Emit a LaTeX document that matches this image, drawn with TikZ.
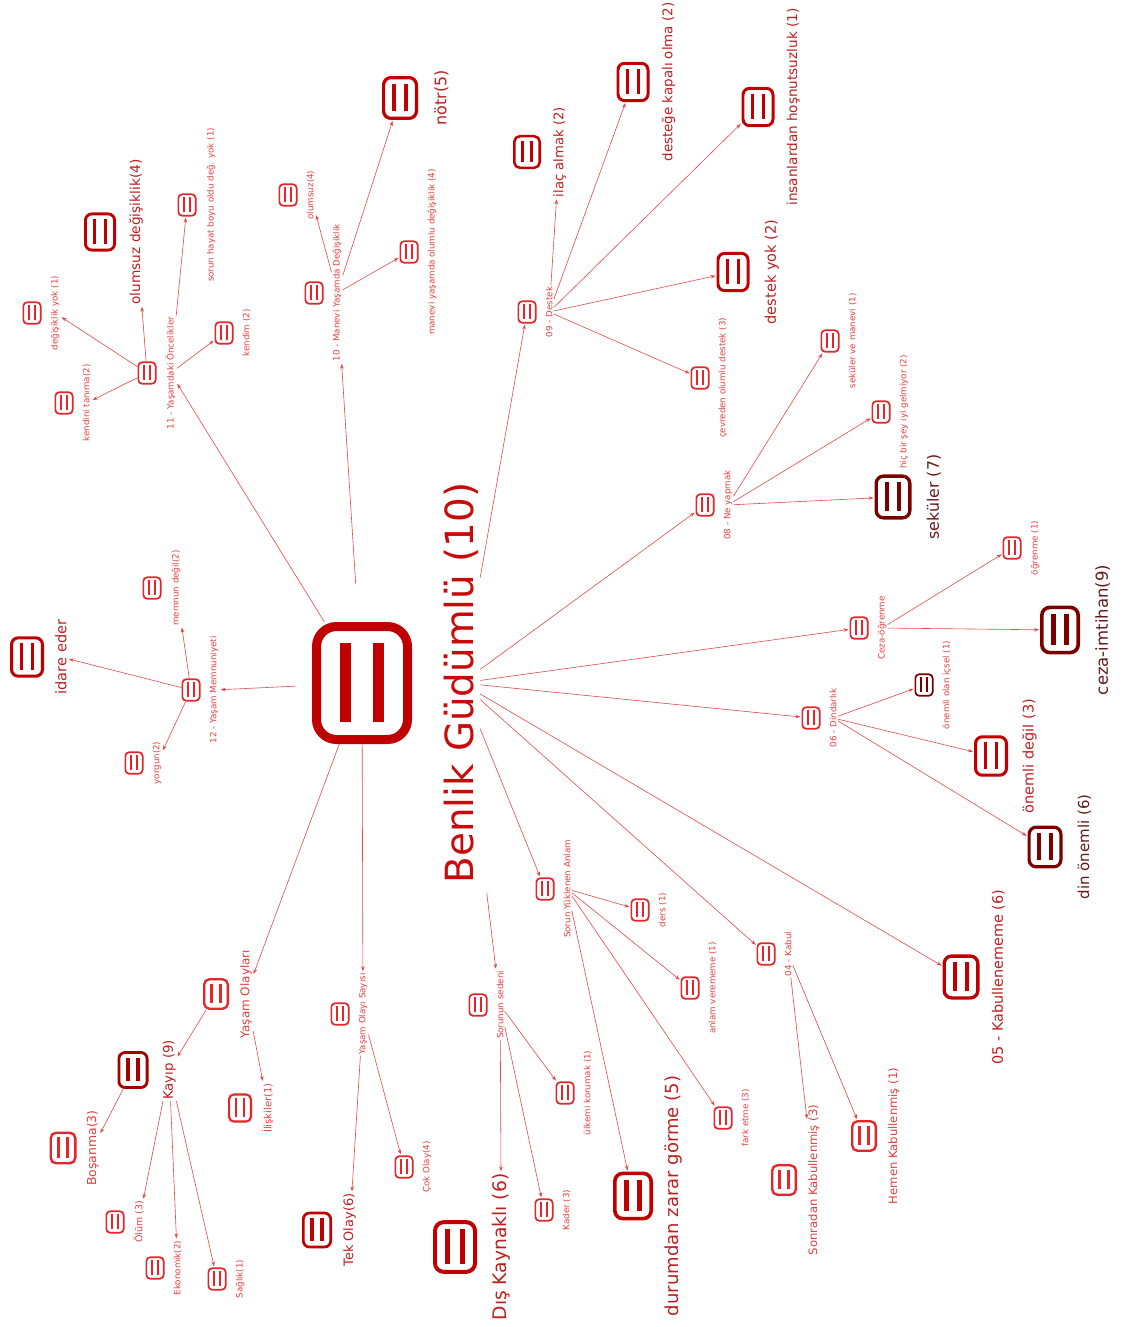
\documentclass[tikz,border=0pt]{standalone}
\usepackage{fontspec}
\setmainfont{DejaVu Sans}
\usetikzlibrary{positioning}
\usetikzlibrary{arrows.meta}

\definecolor{icoS}{RGB}{228,38,42}
\definecolor{icoM}{RGB}{192,0,0}
\definecolor{icoK}{RGB}{165,0,0}
\definecolor{icoD}{RGB}{122,0,0}
\definecolor{lblS}{RGB}{226,62,62}
\definecolor{lblM}{RGB}{190,30,30}
\definecolor{lblD}{RGB}{100,25,25}
\definecolor{lblC}{RGB}{200,10,10}
\definecolor{edgec}{RGB}{228,72,72}

\begin{document}
\begin{tikzpicture}[
            x = 1pt, y = -1pt, % one unit per pixel, y downwards
            > = {Stealth[length=5pt, width=3.6pt]}, % arrow head style
            shorten > = 1pt,
            semithick,
            every edge/.append style = {draw = edgec},
            % code icon: rounded box with two bars
            ico/.style 2 args = {draw = #2, fill = white, inner sep = 0pt,
                rounded corners = 0.2*#1, line width = 0.09*#1,
                minimum width = 0.91*#1, minimum height = 1.13*#1,
                path picture = {
                    \draw[#2, line width = 0.11*#1]
                        ([xshift=-0.165*#1, yshift=0.4*#1]path picture bounding box.center) --
                        ([xshift=-0.165*#1, yshift=-0.4*#1]path picture bounding box.center);
                    \draw[#2, line width = 0.11*#1]
                        ([xshift=0.165*#1, yshift=0.4*#1]path picture bounding box.center) --
                        ([xshift=0.165*#1, yshift=-0.4*#1]path picture bounding box.center);
                }},
            sico/.style = {ico = {19pt}{icoS}},
            % labels run upwards, next to their icon
            lbl/.style 2 args = {rotate = 90, anchor = north, inner sep = 1pt,
                text = #2, font = \fontsize{#1}{#1}\selectfont},
            lbls/.style = {lbl = {8.7}{lblS}}
        ]

        \useasboundingbox (0,0) rectangle (1125,1327);

% centre
        \node[ico = {100pt}{icoM}] (c) at (362,683) {};
        \node[right = 31pt of c, lbl = {38.8}{lblC}] (c-l) {Benlik Güdümlü (10)};

% 12 - Yaşam Memnuniyeti
        \node[sico] (n12) at (191,690) {};
        \node[right = 8pt of n12, lbls] (n12-l) {12 - Yaşam Memnuniyeti};
        \node[ico = {34pt}{icoM}] (idare) at (27,657) {};
        \node[right = 10pt of idare, lbl = {14.6}{lblM}] (idare-l) {idare eder};
        \node[sico] (memnun) at (152,588) {};
        \node[right = 9pt of memnun, lbls] (memnun-l) {memnun değil(2)};
        \node[sico] (yorgun) at (134,763) {};
        \node[right = 8pt of yorgun, lbls] (yorgun-l) {yorgun(2)};

% 11 - Yaşamdaki Öncelikler
        \node[sico] (n11) at (147,373) {};
        \node[right = 8pt of n11, lbls] (n11-l) {11 - Yaşamdaki Öncelikler};
        \node[ico = {32pt}{icoM}] (olumdeg) at (100,232) {};
        \node[right = 12pt of olumdeg, lbl = {13.7}{lblM}] (olumdeg-l) {olumsuz değişiklik(4)};
        \node[sico] (sorun) at (187,205) {};
        \node[right = 9pt of sorun, lbls] (sorun-l) {sorun hayat boyu oldu değ. yok (1)};
        \node[sico] (kendim) at (224,333) {};
        \node[right = 8pt of kendim, lbls] (kendim-l) {kendim (2)};
        \node[sico] (degyok) at (32,313) {};
        \node[right = 8pt of degyok, lbls] (degyok-l) {değişiklik yok (1)};
        \node[sico] (kendini) at (64,403) {};
        \node[right = 8pt of kendini, lbls] (kendini-l) {kendini tanıma(2)};

% 10 - Manevi Yaşamda Değişiklik
        \node[sico] (n10) at (314,293) {};
        \node[right = 8pt of n10, lbls] (n10-l) {10 - Manevi Yaşamda Değişiklik};
        \node[sico] (olumsuz) at (288,195) {};
        \node[right = 8pt of olumsuz, lbls] (olumsuz-l) {olumsuz(4)};
        \node[ico = {36pt}{icoM}] (notr) at (400,98) {};
        \node[right = 15pt of notr, lbl = {15.9}{lblM}] (notr-l) {nötr(5)};
        \node[sico] (olumlu) at (409,252) {};
        \node[right = 8pt of olumlu, lbls] (olumlu-l) {manevi yaşamda olumlu değişiklik (4)};

% 09 - Destek
        \node[sico] (n09) at (527,312) {};
        \node[right = 8pt of n09, lbls] (n09-l) {09 - Destek};
        \node[ico = {28pt}{icoM}] (ilac) at (527,152) {};
        \node[right = 11pt of ilac, lbl = {13.2}{lblM}] (ilac-l) {ilaç almak (2)};
        \node[ico = {33pt}{icoM}] (kapali) at (633,82) {};
        \node[right = 11pt of kapali, lbl = {13.4}{lblM}] (kapali-l) {desteğe kapalı olma (2)};
        \node[ico = {33pt}{icoM}] (hosnut) at (758,107) {};
        \node[right = 11pt of hosnut, lbl = {13.6}{lblM}] (hosnut-l) {insanlardan hoşnutsuzluk (1)};
        \node[ico = {33pt}{icoM}] (destekyok) at (733,272) {};
        \node[right = 14pt of destekyok, lbl = {14.6}{lblM}] (destekyok-l) {destek yok (2)};
        \node[sico] (cevre) at (700,378) {};
        \node[right = 8pt of cevre, lbls] (cevre-l) {çevreden olumlu destek (3)};

% 08 - Ne yapmak
        \node[sico] (n08) at (705,505) {};
        \node[right = 8pt of n08, lbls] (n08-l) {08 - Ne yapmak};
        \node[sico] (sekman) at (830,341) {};
        \node[right = 8pt of sekman, lbls] (sekman-l) {seküler ve manevi (1)};
        \node[sico] (hicbir) at (881,412) {};
        \node[right = 8pt of hicbir, lbls] (hicbir-l) {hiç bir şey iyi gelmiyor (2)};
        \node[ico = {37pt}{icoD}] (sekuler) at (893,497) {};
        \node[right = 14pt of sekuler, lbl = {15.8}{lblD}] (sekuler-l) {seküler (7)};

% Ceza-öğrenme
        \node[sico] (nceza) at (859,628) {};
        \node[right = 8pt of nceza, lbls] (nceza-l) {Ceza-öğrenme};
        \node[sico] (ogrenme) at (1012,548) {};
        \node[right = 8pt of ogrenme, lbls] (ogrenme-l) {öğrenme (1)};
        \node[ico = {40pt}{icoD}] (imtihan) at (1060,630) {};
        \node[right = 14pt of imtihan, lbl = {16.5}{lblD}] (imtihan-l) {ceza-imtihan(9)};

% 06 - Dindarlık
        \node[sico] (n06) at (811,718) {};
        \node[right = 8pt of n06, lbls] (n06-l) {06 - Dindarlık};
        \node[ico = {19pt}{icoD}] (icsel) at (924,685) {};
        \node[right = 8pt of icsel, lbls] (icsel-l) {önemli olan içsel (1)};
        \node[ico = {34pt}{icoM}] (onemdegil) at (991,756) {};
        \node[right = 13pt of onemdegil, lbl = {14.5}{lblM}] (onemdegil-l) {önemli değil (3)};
        \node[ico = {35pt}{icoD}] (dinonem) at (1045,847) {};
        \node[right = 14pt of dinonem, lbl = {15}{lblD}] (dinonem-l) {din önemli (6)};

% 05 - Kabullenememe
        \node[ico = {37pt}{icoM}] (n05) at (961,977) {};
        \node[right = 11pt of n05, lbl = {14.4}{lblM}] (n05-l) {05 - Kabullenememe (6)};

% 04 - Kabul
        \node[sico] (n04) at (766,954) {};
        \node[right = 8pt of n04, lbls] (n04-l) {04 - Kabul};
        \node[ico = {26pt}{icoS}] (sonradan) at (784,1180) {};
        \node[right = 10pt of sonradan, lbl = {11.6}{lblS}] (sonradan-l) {Sonradan Kabullenmiş (3)};
        \node[ico = {26pt}{icoS}] (hemen) at (864,1136) {};
        \node[right = 10pt of hemen, lbl = {11.6}{lblS}] (hemen-l) {Hemen Kabullenmiş (1)};

% Sorun Yüklenen Anlam
        \node[sico] (nanlam) at (545,889) {};
        \node[right = 8pt of nanlam, lbls] (nanlam-l) {Sorun Yüklenen Anlam};
        \node[sico] (ders) at (640,910) {};
        \node[right = 8pt of ders, lbls] (ders-l) {ders (1)};
        \node[sico] (anlamver) at (690,988) {};
        \node[right = 8pt of anlamver, lbls] (anlamver-l) {anlam verememe (1)};
        \node[sico] (fark) at (723,1118) {};
        \node[right = 8pt of fark, lbls] (fark-l) {fark etme (3)};
        \node[ico = {40pt}{icoM}] (zarar) at (633,1196) {};
        \node[right = 11pt of zarar, lbl = {18}{lblM}] (zarar-l) {durumdan zarar görme (5)};

% Sorunun sedeni
        \node[sico] (nsebep) at (478,1005) {};
        \node[right = 8pt of nsebep, lbls] (nsebep-l) {Sorunun sedeni};
        \node[sico] (ulke) at (565,1093) {};
        \node[right = 8pt of ulke, lbls] (ulke-l) {ülkemi korumak (1)};
        \node[sico] (kader) at (544,1210) {};
        \node[right = 8pt of kader, lbls] (kader-l) {Kader (3)};
        \node[ico = {44pt}{icoM}] (dis) at (455,1247) {};
        \node[right = 14pt of dis, lbl = {18.7}{lblM}] (dis-l) {Dış Kaynaklı (6)};

% Yaşam Olayı Sayısı
        \node[sico] (nsayi) at (340,1014) {};
        \node[right = 8pt of nsayi, lbls] (nsayi-l) {Yaşam Olayı Sayısı};
        \node[ico = {30pt}{icoM}] (tek) at (317,1230) {};
        \node[right = 10pt of tek, lbl = {12.9}{lblM}] (tek-l) {Tek Olay(6)};
        \node[sico] (cok) at (404,1167) {};
        \node[right = 8pt of cok, lbls] (cok-l) {Çok Olay(4)};

% Yaşam Olayları
        \node[ico = {26pt}{icoS}] (nolay) at (216,994) {};
        \node[right = 10pt of nolay, lbl = {12}{lblS}] (nolay-l) {Yaşam Olayları};
        \node[ico = {31pt}{icoK}] (kayip) at (133,1070) {};
        \node[right = 13pt of kayip, lbl = {13.3}{lblM}] (kayip-l) {Kayıp (9)};
        \node[ico = {27pt}{icoS}] (bosanma) at (63,1148) {};
        \node[right = 9pt of bosanma, lbl = {12.4}{lblS}] (bosanma-l) {Boşanma(3)};
        \node[sico] (olum) at (115,1222) {};
        \node[right = 8pt of olum, lbl = {9.5}{lblS}] (olum-l) {Ölüm (3)};
        \node[sico] (ekonomik) at (155,1268) {};
        \node[right = 8pt of ekonomik, lbls] (ekonomik-l) {Ekonomik(2)};
        \node[sico] (saglik) at (217,1279) {};
        \node[right = 8pt of saglik, lbls] (saglik-l) {Sağlık(1)};
        \node[ico = {24pt}{icoS}] (iliski) at (240,1108) {};
        \node[right = 9pt of iliski, lbl = {10}{lblS}] (iliski-l) {İlişkiler(1)};

% first level
        \path[->, shorten < = 16pt] (c) edge (n12-l);
        \path[->] (c) edge (n11-l);
        \path[->, shorten < = 38pt] (c) edge (n10-l);
        \path[->] (c-l) edge (n09);
        \path[->] (c-l) edge (n08);
        \path[->] (c-l) edge (nceza);
        \path[->] (c-l) edge (n06);
        \path[->] (c-l) edge (n05);
        \path[->] (c-l) edge (n04);
        \path[->] (c-l) edge (nanlam);
        \path[->, shorten < = 55pt] (c-l) edge (nsebep-l);
        \path[->] (c) edge (nsayi-l);
        \path[->] (c) edge (nolay-l);

% second level
        \path[->] (n12) edge (idare-l);
        \path[->] (n12) edge (memnun-l);
        \path[->] (n12) edge (yorgun-l);

        \path[->] (n11) edge (olumdeg-l);
        \path[->] (n11-l) edge (sorun);
        \path[->] (n11-l) edge (kendim);
        \path[->] (n11) edge (degyok-l);
        \path[->] (n11) edge (kendini-l);

        \path[->] (n10-l) edge (olumsuz-l);
        \path[->] (n10-l) edge (notr);
        \path[->] (n10-l) edge (olumlu);

        \path[->] (n09-l) edge (ilac-l);
        \path[->] (n09-l) edge (kapali);
        \path[->] (n09-l) edge (hosnut);
        \path[->] (n09-l) edge (destekyok);
        \path[->] (n09-l) edge (cevre);

        \path[->] (n08-l) edge (sekman);
        \path[->] (n08-l) edge (hicbir);
        \path[->] (n08-l) edge (sekuler);

        \path[->] (nceza-l) edge (ogrenme);
        \path[->] (nceza-l) edge (imtihan);

        \path[->] (n06-l) edge (icsel);
        \path[->] (n06-l) edge (onemdegil);
        \path[->] (n06-l) edge (dinonem);

        \path[->] (n04-l) edge (sonradan-l);
        \path[->] (n04-l) edge (hemen);

        \path[->] (nanlam-l) edge (ders);
        \path[->] (nanlam-l) edge (anlamver);
        \path[->] (nanlam-l) edge (fark);
        \path[->] (nanlam-l) edge (zarar);

        \path[->] (nsebep-l) edge (ulke);
        \path[->] (nsebep-l) edge (kader);
        \path[->] (nsebep-l) edge (dis-l);

        \path[->] (nsayi-l) edge (tek-l);
        \path[->] (nsayi-l) edge (cok);

        \path[->] (nolay) edge (kayip-l);
        \path[->] (nolay-l) edge (iliski-l);

% third level
        \path[->] (kayip) edge (bosanma-l);
        \path[->] (kayip-l) edge (olum-l);
        \path[->] (kayip-l) edge (ekonomik-l);
        \path[->] (kayip-l) edge (saglik);

  \end{tikzpicture}
\end{document}
